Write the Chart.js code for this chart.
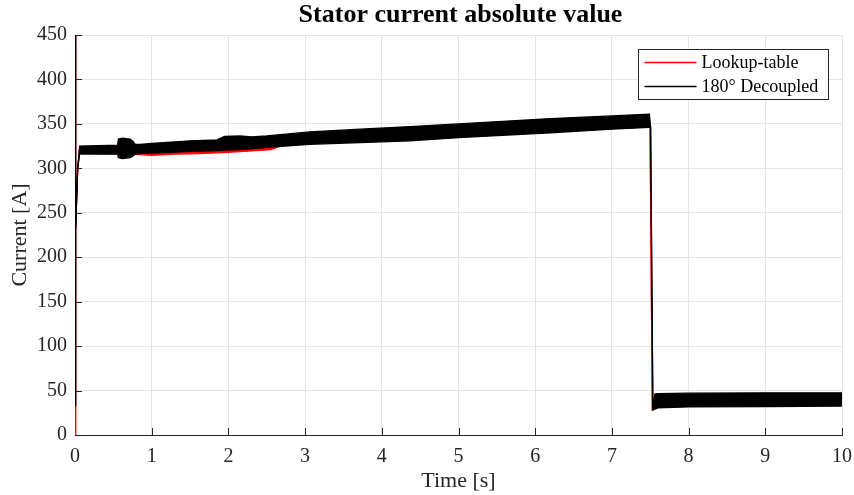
<!DOCTYPE html>
<html>
<head>
<meta charset="utf-8">
<script src="https://cdn.jsdelivr.net/npm/chart.js@4.4.1/dist/chart.umd.min.js"></script>
<style>
  html, body { margin: 0; padding: 0; background: #ffffff; }
  #wrap { width: 854px; height: 495px; }
</style>
</head>
<body>
<div id="wrap"><canvas id="c" width="854" height="495"></canvas></div>
<script>
// ---- text ----
const titleText = 'Stator current absolute value';
const xTitle = 'Time [s]';
const yTitle = 'Current [A]';
const seriesNames = ['Lookup-table', '180\u00b0 Decoupled'];

// ---- tick values ----
const xTickValues = [0, 1, 2, 3, 4, 5, 6, 7, 8, 9, 10];
const yTickValues = [0, 50, 100, 150, 200, 250, 300, 350, 400, 450];

// ---- 180° Decoupled: upper / lower envelope of the current ripple band [A] ----
const decTime  = [0, 0.004, 0.012, 0.035, 0.06, 0.555, 0.565, 0.62, 0.72, 0.76, 0.785, 0.85, 1.0, 1.5, 1.85, 1.95, 2.15, 2.3, 2.5, 3.06, 3.72, 4.37, 5.0, 6.2, 7.0, 7.49, 7.505, 7.535, 7.56, 7.6, 8.0, 9.0, 10];
const decUpper = [33, 460, 230, 300, 325, 326, 333, 334, 333, 330, 327, 327, 328, 331, 332, 336, 336.5, 335.5, 336.5, 341, 344, 347, 350, 356, 359, 361, 346, 28, 46, 46.5, 47, 47.5, 47.5];
const decLower = [33, 460, 230, 300, 316, 316, 312, 311, 312, 314, 316, 316.5, 317, 319, 320, 320.5, 321, 322, 323.5, 327, 329, 331, 334.5, 340, 344, 346, 346, 28, 29, 30.5, 31.5, 32, 32.5];

// ---- Lookup-table: upper / lower envelope [A] ----
const lutTime  = [0, 0.004, 0.012, 0.035, 0.06, 0.85, 1.0, 1.3, 1.6, 1.85, 2.0, 2.3, 2.55, 2.7, 3.06, 3.72, 4.37, 5.0, 6.2, 7.0, 7.485, 7.497, 7.527, 7.56, 7.6, 8.0, 9.0, 10];
const lutUpper = [0, 460, 230, 300, 323, 325, 326, 328, 329.5, 330, 332, 333, 334, 336, 339, 342, 345, 348, 354, 357, 358, 345, 28, 44, 44.5, 45, 45.5, 45.5];
const lutLower = [0, 460, 230, 300, 317, 315.5, 314.5, 316, 316.5, 317.5, 318, 319.5, 321, 325.5, 328, 330, 332, 335.5, 341, 345, 347, 347, 28, 30, 31.5, 32.5, 33, 33.5];

const RED = '#ff0000';
const BLACK = '#000000';
const AXIS = '#262626';
const GRID = '#e5e5e5';
const FONT = "'Liberation Serif', 'Times New Roman', serif";

const pts = (t, v) => t.map((x, i) => ({ x: x, y: v[i] }));

// title above the axes
const titlePlugin = {
  id: 'titleText',
  afterDraw(chart) {
    const { ctx, chartArea } = chart;
    ctx.save();
    ctx.font = 'bold 26px ' + FONT;
    ctx.fillStyle = '#000000';
    ctx.textAlign = 'center';
    ctx.textBaseline = 'middle';
    ctx.fillText(titleText, (chartArea.left + chartArea.right) / 2 + 2, 15);
    ctx.restore();
  }
};

// inward tick marks on the left and bottom axes
const innerTicks = {
  id: 'innerTicks',
  beforeDatasetsDraw(chart) {
    const { ctx, chartArea, scales } = chart;
    ctx.save();
    ctx.strokeStyle = AXIS;
    ctx.lineWidth = 1;
    ctx.beginPath();
    scales.x.ticks.forEach(t => {
      const px = Math.round(scales.x.getPixelForValue(t.value)) + 0.5;
      ctx.moveTo(px, chartArea.bottom);
      ctx.lineTo(px, chartArea.bottom - 7);
    });
    scales.y.ticks.forEach(t => {
      const py = Math.round(scales.y.getPixelForValue(t.value)) + 0.5;
      ctx.moveTo(chartArea.left, py);
      ctx.lineTo(chartArea.left + 7, py);
    });
    ctx.stroke();
    ctx.restore();
  }
};

// boxed legend in the upper right corner of the plot area
const boxLegend = {
  id: 'boxLegend',
  afterDraw(chart) {
    const { ctx, chartArea } = chart;
    const right = chartArea.right - 13.5;
    const left = right - 190;
    const top = chartArea.top + 14.5;
    const h = 50;
    ctx.save();
    ctx.fillStyle = '#ffffff';
    ctx.fillRect(left, top, right - left, h);
    ctx.strokeStyle = AXIS;
    ctx.lineWidth = 1;
    ctx.strokeRect(left, top, right - left, h);
    const colors = [RED, BLACK];
    ctx.font = '18px ' + FONT;
    ctx.textBaseline = 'middle';
    ctx.textAlign = 'left';
    seriesNames.forEach((name, i) => {
      const y = top + 13 + i * 24;
      ctx.strokeStyle = colors[i];
      ctx.lineWidth = 1.5;
      ctx.beginPath();
      ctx.moveTo(left + 6, y);
      ctx.lineTo(left + 58, y);
      ctx.stroke();
      ctx.fillStyle = '#000000';
      ctx.fillText(name, left + 63, y + 1);
    });
    ctx.restore();
  }
};

const lineBase = {
  pointRadius: 0,
  pointHoverRadius: 0,
  borderWidth: 1.2,
  tension: 0
};

new Chart(document.getElementById('c'), {
  type: 'line',
  data: {
    datasets: [
      Object.assign({}, lineBase, { label: seriesNames[1], data: pts(decTime, decUpper), borderColor: BLACK, fill: false }),
      Object.assign({}, lineBase, { label: seriesNames[1] + ' (low)', data: pts(decTime, decLower), borderColor: BLACK, backgroundColor: BLACK, fill: '-1' }),
      Object.assign({}, lineBase, { label: seriesNames[0], data: pts(lutTime, lutUpper), borderColor: RED, fill: false }),
      Object.assign({}, lineBase, { label: seriesNames[0] + ' (low)', data: pts(lutTime, lutLower), borderColor: RED, backgroundColor: RED, fill: '-1' })
    ]
  },
  options: {
    responsive: false,
    animation: false,
    devicePixelRatio: 1,
    layout: { padding: { top: 35, right: 12, bottom: 0, left: 0 } },
    plugins: {
      legend: { display: false },
      tooltip: { enabled: false },
      title: { display: false }
    },
    scales: {
      x: {
        type: 'linear',
        min: 0,
        max: 10,
        afterBuildTicks: s => { s.ticks = xTickValues.map(v => ({ value: v })); },
        afterFit: s => { s.height = 60; s.paddingLeft = 0; s.paddingRight = 0; },
        grid: { color: GRID, lineWidth: 1, drawTicks: false },
        border: { display: true, color: AXIS, width: 1 },
        ticks: { font: { family: FONT, size: 20 }, color: AXIS, padding: 10, maxRotation: 0, autoSkip: false },
        title: { display: true, text: xTitle, font: { family: FONT, size: 22 }, color: AXIS, padding: { top: 0, bottom: 1 } }
      },
      y: {
        type: 'linear',
        min: 0,
        max: 450,
        afterBuildTicks: s => { s.ticks = yTickValues.map(v => ({ value: v })); },
        afterFit: s => { s.width = 75; s.paddingTop = 0; s.paddingBottom = 0; },
        grid: { color: GRID, lineWidth: 1, drawTicks: false },
        border: { display: true, color: AXIS, width: 1 },
        ticks: { font: { family: FONT, size: 20 }, color: AXIS, padding: 8, autoSkip: false },
        title: { display: true, text: yTitle, font: { family: FONT, size: 22 }, color: AXIS, padding: { top: 7, bottom: 0 } }
      }
    }
  },
  plugins: [innerTicks, boxLegend, titlePlugin]
});
</script>
</body>
</html>
